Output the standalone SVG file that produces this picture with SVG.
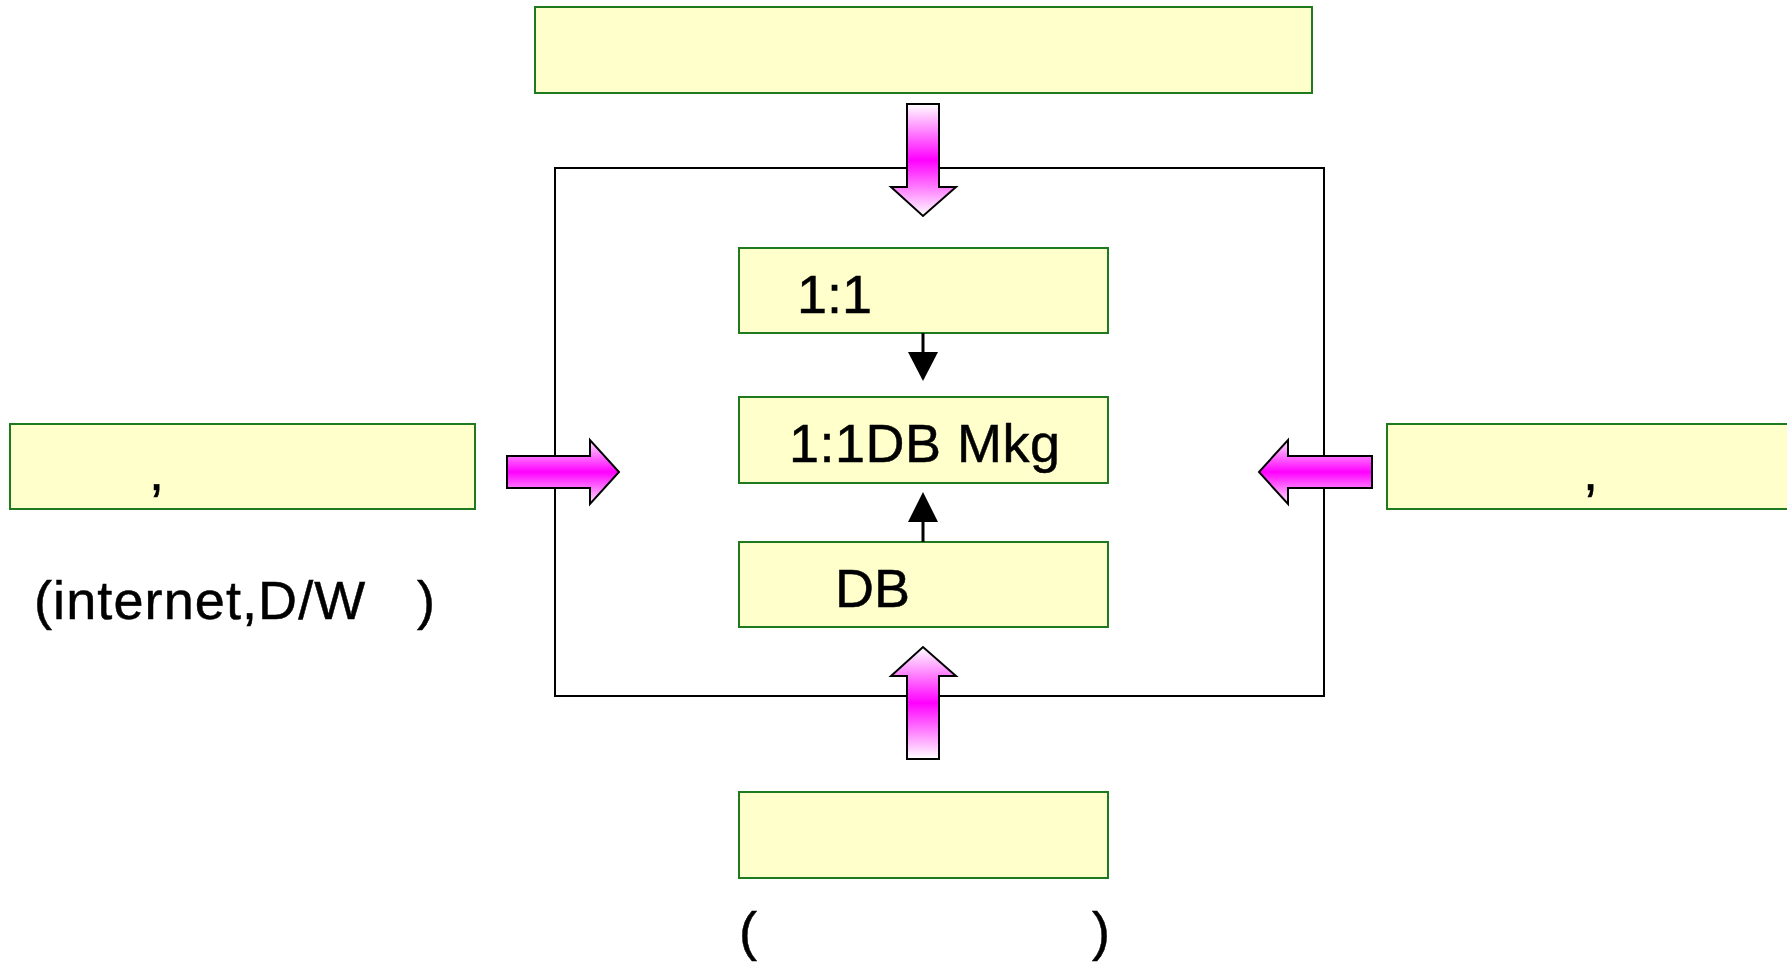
<svg xmlns="http://www.w3.org/2000/svg" width="1787" height="965" viewBox="0 0 1787 965">
<style>
.box{fill:#ffffcc;stroke:#1f7a1f;stroke-width:2}
.frame{fill:none;stroke:#000;stroke-width:2}
.big{fill:url(#pink);stroke:#000;stroke-width:2;stroke-linejoin:miter}
.txt{font-family:"Liberation Sans",Arial,sans-serif;font-size:54px;fill:#000;stroke:#000;stroke-width:0.5}
.ln{stroke:#000;stroke-width:3;fill:none}
.hd{fill:#000}
</style>
<defs>
<linearGradient id="pink" x1="0" y1="0" x2="0" y2="1">
<stop offset="0" stop-color="#ffffff"/>
<stop offset="0.5" stop-color="#ff00ff"/>
<stop offset="1" stop-color="#ffffff"/>
</linearGradient>
<linearGradient id="pinkh" x1="0" y1="0" x2="0" y2="1">
<stop offset="0" stop-color="#ffe6ff"/>
<stop offset="0.5" stop-color="#ff00ff"/>
<stop offset="1" stop-color="#ffe6ff"/>
</linearGradient>
</defs>
<rect id="frame" class="frame" x="555" y="168" width="769" height="528"/>
<g id="top"><rect class="box" x="535" y="7" width="777" height="86"/></g>
<g id="left"><rect class="box" x="10" y="424" width="465" height="85"/><text class="txt" x="149" y="490">,</text></g>
<g id="right"><rect class="box" x="1387" y="424" width="410" height="85"/><text class="txt" x="1583" y="490">,</text></g>
<g id="n11"><rect class="box" x="739" y="248" width="369" height="85"/><text class="txt" x="797" y="313">1:1</text></g>
<g id="nmkg"><rect class="box" x="739" y="397" width="369" height="86"/><text class="txt" x="789" y="462" letter-spacing="0.5">1:1DB Mkg</text></g>
<g id="ndb"><rect class="box" x="739" y="542" width="369" height="85"/><text class="txt" x="835" y="607">DB</text></g>
<g id="bottom"><rect class="box" x="739" y="792" width="369" height="86"/></g>
<g id="labels">
<text class="txt" x="34" y="619" letter-spacing="1.1">(internet,D/W<tspan x="417">)</tspan></text>
<text class="txt" x="739" y="950">(<tspan x="1092">)</tspan></text>
</g>
<g id="connectors">
<path class="big" d="M907,104 H939 V187 H956 L923,216 L891,187 H907 Z"/>
<path class="big" d="M907,759 H939 V676 H956 L923,647 L891,676 H907 Z"/>
<path class="big" style="fill:url(#pinkh)" d="M507,456 H590 V440 L619,472 L590,504 V488 H507 Z"/>
<path class="big" style="fill:url(#pinkh)" d="M1372,456 H1288 V440 L1259,472 L1288,504 V488 H1372 Z"/>
<line class="ln" x1="923" y1="333" x2="923" y2="354"/>
<polygon class="hd" points="908,352 938,352 923,381"/>
<line class="ln" x1="923" y1="542" x2="923" y2="520"/>
<polygon class="hd" points="908,522 938,522 923,492"/>
</g>
</svg>
